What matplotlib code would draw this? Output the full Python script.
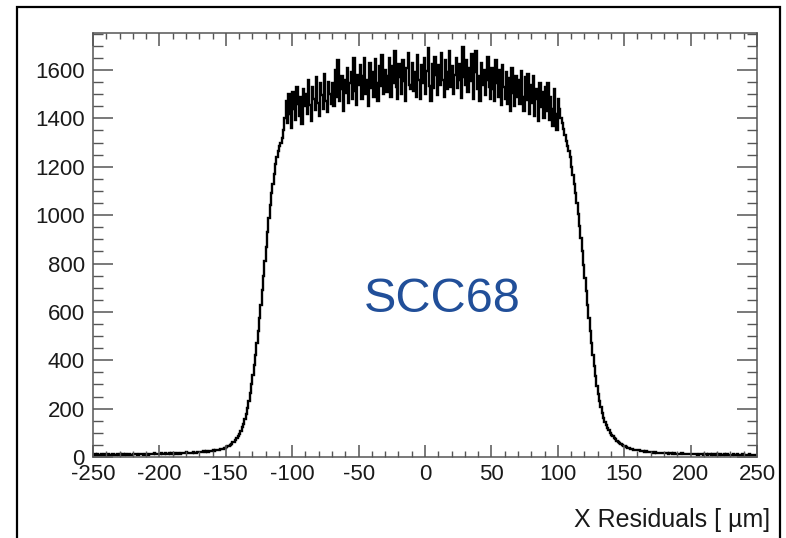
import numpy as np
import matplotlib
matplotlib.use("Agg")
import matplotlib.pyplot as plt
from matplotlib.patches import Rectangle
from matplotlib.ticker import MultipleLocator

# Histogram: 500 bins of 1 um from -250 to 250
bin_lo = -250
bin_hi = 250
counts = [
    # -250 .. -230
    9, 12, 8, 11, 10, 7, 13, 9, 11, 10, 8, 12, 10, 9, 14, 11, 8, 10, 12, 9,
    # -230 .. -210
    11, 9, 13, 10, 12, 8, 11, 14, 10, 9, 12, 11, 13, 10, 9, 12, 14, 11, 10, 13,
    # -210 .. -190
    12, 10, 14, 11, 13, 12, 15, 11, 13, 14, 12, 16, 13, 11, 15, 14, 12, 16, 13, 15,
    # -190 .. -170
    14, 16, 13, 17, 15, 14, 18, 16, 15, 17, 19, 16, 18, 15, 17, 20, 18, 16, 19, 21,
    # -170 .. -150
    19, 22, 20, 23, 21, 24, 22, 26, 25, 23, 27, 26, 29, 28, 31, 30, 33, 35, 34, 38,
    # -150 .. -130
    42, 45, 47, 51, 55, 60, 64, 70, 77, 85, 96, 108, 122, 138, 156, 178, 203, 232, 265, 300,
    # -130 .. -110
    340, 380, 420, 470, 520, 575, 630, 690, 750, 810, 870, 930, 990, 1040, 1090, 1130, 1170, 1210, 1240, 1265,
    # -110 .. -90
    1285, 1300, 1320, 1350, 1400, 1470, 1380, 1500, 1420, 1360, 1510, 1440, 1395, 1530, 1460, 1410, 1490, 1375, 1520, 1450,
    # -90 .. -70
    1500, 1420, 1560, 1455, 1390, 1530, 1480, 1435, 1570, 1465, 1410, 1545, 1495, 1440, 1585, 1470, 1425, 1550, 1500, 1460,
    # -70 .. -50
    1545, 1450, 1600, 1490, 1640, 1470, 1520, 1575, 1430, 1560, 1505, 1610, 1465, 1545, 1590, 1480, 1650, 1515, 1455, 1580,
    # -50 .. -30
    1540, 1620, 1480, 1575, 1650, 1500, 1560, 1450, 1630, 1525, 1590, 1490, 1645, 1545, 1470, 1615, 1535, 1660, 1500, 1570,
    # -30 .. -10
    1600, 1510, 1575, 1650, 1490, 1615, 1545, 1680, 1530, 1480, 1625, 1570, 1500, 1640, 1555, 1470, 1610, 1670, 1540, 1520,
    # -10 .. 10
    1630, 1515, 1590, 1490, 1660, 1560, 1480, 1620, 1545, 1650, 1500, 1595, 1690, 1535, 1470, 1625, 1525, 1655, 1580, 1495,
    # 10 .. 30
    1620, 1540, 1670, 1560, 1490, 1640, 1520, 1590, 1680, 1530, 1615, 1500, 1580, 1650, 1525, 1625, 1560, 1485, 1695, 1570,
    # 30 .. 50
    1540, 1640, 1510, 1610, 1555, 1665, 1480, 1590, 1680, 1520, 1575, 1470, 1630, 1540, 1600, 1495, 1560, 1655, 1530, 1480,
    # 50 .. 70
    1610, 1520, 1470, 1640, 1545, 1490, 1600, 1455, 1620, 1530, 1480, 1590, 1460, 1565, 1430, 1610, 1505, 1450, 1575, 1490,
    # 70 .. 90
    1560, 1460, 1595, 1490, 1430, 1570, 1475, 1585, 1420, 1540, 1465, 1575, 1410, 1520, 1480, 1390, 1545, 1445, 1510, 1400,
    # 90 .. 110
    1530, 1430, 1545, 1395, 1490, 1440, 1370, 1520, 1420, 1350, 1480, 1440, 1400, 1380, 1355, 1330, 1305, 1285, 1265, 1240,
    # 110 .. 130
    1200, 1165, 1130, 1090, 1050, 1005, 955, 905, 850, 795, 740, 685, 630, 575, 520, 470, 420, 375, 335, 295,
    # 130 .. 150
    260, 230, 205, 182, 162, 146, 132, 120, 110, 101, 93, 86, 79, 73, 67, 62, 57, 53, 49, 46,
    # 150 .. 170
    44, 41, 39, 37, 35, 34, 32, 31, 30, 28, 27, 27, 25, 24, 24, 22, 23, 21, 20, 21,
    # 170 .. 190
    19, 20, 18, 19, 17, 18, 16, 17, 18, 15, 16, 17, 15, 14, 16, 15, 13, 15, 14, 13,
    # 190 .. 210
    14, 12, 13, 15, 12, 13, 11, 14, 12, 13, 11, 12, 14, 11, 12, 10, 13, 11, 12, 10,
    # 210 .. 230
    11, 12, 10, 13, 11, 9, 12, 10, 11, 9, 12, 10, 11, 8, 10, 12, 9, 11, 10, 8,
    # 230 .. 250
    10, 9, 11, 8, 10, 12, 9, 10, 8, 11, 9, 10, 7, 9, 11, 8, 10, 9, 8, 10,
]
x_ticks = [-250, -200, -150, -100, -50, 0, 50, 100, 150, 200, 250]
y_ticks = [0, 200, 400, 600, 800, 1000, 1200, 1400, 1600]
x_label = "X Residuals [ \u00b5m]"
annotation = "SCC68"

plt.rcParams['font.family'] = ['Liberation Sans', 'DejaVu Sans']
plt.rcParams['axes.unicode_minus'] = False

fig = plt.figure(figsize=(7.86, 5.38), dpi=100)
fig.patch.set_facecolor('white')

# outer frame
fig.patches.append(Rectangle((17 / 786, -0.05), (780 - 17) / 786, 1.05 - 7 / 538,
                             transform=fig.transFigure, fill=False,
                             edgecolor='black', linewidth=1.6))

ax = fig.add_axes([93 / 786, 81 / 538, (757 - 93) / 786, (457 - 33) / 538])

edges = np.linspace(bin_lo, bin_hi, len(counts) + 1)
ax.stairs(counts, edges, color='black', linewidth=1.7, baseline=None)

ax.set_xlim(bin_lo, bin_hi)
ax.set_ylim(0, 1753)

ax.set_xticks(x_ticks)
ax.set_yticks(y_ticks)
ax.xaxis.set_minor_locator(MultipleLocator(10))
ax.yaxis.set_minor_locator(MultipleLocator(50))

tick_col = '#555555'
ax.tick_params(axis='x', which='major', direction='in', length=9, width=1.1,
               top=True, bottom=True, color=tick_col, labelsize=16, pad=5,
               labelcolor='#1a1a1a')
ax.tick_params(axis='x', which='minor', direction='in', length=4.5, width=1.0,
               top=True, bottom=True, color=tick_col)
ax.tick_params(axis='y', which='major', direction='in', length=14.5, width=1.1,
               left=True, right=True, color=tick_col, labelsize=16, pad=6,
               labelcolor='#1a1a1a')
ax.tick_params(axis='y', which='minor', direction='in', length=7.5, width=1.0,
               left=True, right=True, color=tick_col)

for sp in ax.spines.values():
    sp.set_color(tick_col)
    sp.set_linewidth(1.1)

ax.set_xlabel(x_label, fontsize=18, loc='right', color='#1a1a1a')
ax.xaxis.label.set_va('center')
ax.xaxis.set_label_coords((770 - 93) / 664, (457 - 520) / 424)

ax.text((442 - 93) / 664, (457 - 300) / 424, annotation, transform=ax.transAxes,
        ha='center', va='center', fontsize=35, color='#214f99')

fig.savefig('out.png', dpi=100)
